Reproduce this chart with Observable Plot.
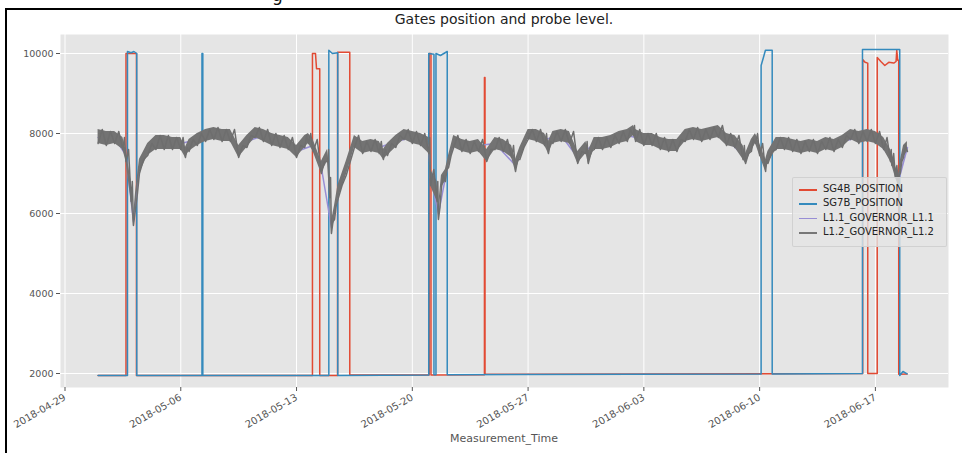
<!DOCTYPE html>
<html>
<head>
<meta charset="utf-8">
<script src="https://cdn.jsdelivr.net/npm/d3@7"></script>
<script src="https://cdn.jsdelivr.net/npm/@observablehq/plot@0.6"></script>
<style>
  body { margin: 0; background: #fff; }
  #wrap { position: relative; width: 962px; height: 453px; overflow: hidden; background: #fff; font-family: "DejaVu Sans", sans-serif; }
  #chart { position: absolute; left: 0; top: 0; }
  #frameL { position: absolute; left: 5px; top: 8px; width: 2px; height: 460px; background: #000; }
  #frameT { position: absolute; left: 5px; top: 8px; width: 970px; height: 2px; background: #000; }
  #cut { position: absolute; left: 272px; top: -15px; font-size: 17px; color: #111; }
  #title { position: absolute; left: 60px; width: 888px; top: 11px; text-align: center; font-size: 14px; color: #222; }
  #xlabel { position: absolute; left: 60px; width: 888px; top: 432px; text-align: center; font-size: 11px; color: #555; }
  #legend { position: absolute; left: 792px; top: 177px; width: 155px; height: 70px; background: rgba(229,229,229,0.8); border: 1px solid rgba(204,204,204,0.8); border-radius: 2px; box-sizing: border-box; }
  .lrow { position: absolute; left: 0; height: 12px; font-size: 10px; color: #222; white-space: nowrap; }
  .lline { position: absolute; left: 6px; top: 6px; width: 18px; height: 1.5px; }
  .ltext { position: absolute; left: 30px; top: 0; line-height: 12px; }
</style>
</head>
<body>
<div id="wrap">
  <div id="cut">g</div>
  <div id="chart"></div>
  <div id="frameL"></div>
  <div id="frameT"></div>
  <div id="title">Gates position and probe level.</div>
  <div id="xlabel">Measurement_Time</div>
  <div id="legend"></div>
</div>
<script>
// ---- series metadata ----
const seriesNames = ["SG4B_POSITION", "SG7B_POSITION", "L1.1_GOVERNOR_L1.1", "L1.2_GOVERNOR_L1.2"];
const seriesColors = ["#E24A33", "#348ABD", "#988ED5", "#777777"];

// ---- axis ticks ----
const xTickLabels = ["2018-04-29", "2018-05-06", "2018-05-13", "2018-05-20", "2018-05-27", "2018-06-03", "2018-06-10", "2018-06-17"];
const yTicks = [2000, 4000, 6000, 8000, 10000];

// ---- SG4B_POSITION (gate, red) ----
const sg4bTime = [
  "2018-05-01T00:00", "2018-05-02T16:30", "2018-05-02T16:30", "2018-05-03T07:40", "2018-05-03T07:40",
  "2018-05-13T23:05", "2018-05-13T23:05", "2018-05-14T03:30", "2018-05-14T05:00", "2018-05-14T09:40", "2018-05-14T09:40",
  "2018-05-15T11:30", "2018-05-15T11:30", "2018-05-16T05:15", "2018-05-16T05:15",
  "2018-05-21T00:30", "2018-05-21T00:30", "2018-05-21T03:05", "2018-05-21T03:05",
  "2018-05-24T08:40", "2018-05-24T08:40", "2018-05-24T09:30", "2018-05-24T09:30",
  "2018-06-16T05:35", "2018-06-16T05:35", "2018-06-16T09:00", "2018-06-16T12:55", "2018-06-16T12:55",
  "2018-06-17T02:40", "2018-06-17T02:40", "2018-06-17T07:55", "2018-06-17T13:40", "2018-06-17T19:25",
  "2018-06-18T02:40", "2018-06-18T06:00", "2018-06-18T07:00", "2018-06-18T08:25", "2018-06-18T09:50", "2018-06-18T09:50",
  "2018-06-18T22:00"
];
const sg4bVal = [
  1950, 1950, 10000, 10000, 1950,
  1950, 10000, 10000, 9620, 9620, 1950,
  1950, 10030, 10030, 1960,
  1960, 10000, 10000, 1960,
  1970, 9400, 9400, 1980,
  2000, 9850, 9780, 9760, 2000,
  2000, 9900, 9800, 9700, 9780,
  9760, 9800, 10080, 9830, 9830, 1980,
  1990
];

// ---- SG7B_POSITION (gate, blue) ----
const sg7bTime = [
  "2018-05-01T00:00", "2018-05-02T18:40", "2018-05-02T18:40", "2018-05-03T00:00", "2018-05-03T04:00", "2018-05-03T08:10", "2018-05-03T08:10",
  "2018-05-07T06:45", "2018-05-07T06:45", "2018-05-07T08:00", "2018-05-07T08:00",
  "2018-05-14T22:50", "2018-05-14T22:50", "2018-05-15T04:00", "2018-05-15T11:50", "2018-05-15T11:50",
  "2018-05-20T23:50", "2018-05-20T23:50", "2018-05-21T07:25", "2018-05-21T07:25",
  "2018-05-21T10:20", "2018-05-21T10:20", "2018-05-21T16:50", "2018-05-22T02:40", "2018-05-22T02:40",
  "2018-06-10T02:10", "2018-06-10T02:10", "2018-06-10T05:30", "2018-06-10T08:25", "2018-06-10T18:15", "2018-06-10T18:15",
  "2018-06-16T05:15", "2018-06-16T05:15", "2018-06-18T11:20", "2018-06-18T11:20", "2018-06-18T16:00", "2018-06-18T22:00"
];
const sg7bVal = [
  1950, 1950, 10050, 10020, 10050, 10000, 1950,
  1950, 10000, 10000, 1950,
  1950, 10080, 10000, 10020, 1950,
  1960, 10000, 9980, 1970,
  1970, 10000, 9950, 10050, 1970,
  1990, 9700, 9900, 10080, 10080, 1990,
  2000, 10100, 10100, 1950, 2050, 1990
];

// ---- L1.1_GOVERNOR_L1.1 (probe, purple; mostly hidden below L1.2) ----
const l11Time = [
  "2018-05-01T00:00", "2018-05-02T00:00", "2018-05-02T16:30", "2018-05-03T03:20", "2018-05-03T12:00", "2018-05-04T00:00",
  "2018-05-05T00:00", "2018-05-06T00:00", "2018-05-07T00:00", "2018-05-08T00:00", "2018-05-09T00:00", "2018-05-09T12:00",
  "2018-05-10T00:00", "2018-05-11T00:00", "2018-05-12T00:00", "2018-05-13T00:00", "2018-05-14T00:00", "2018-05-14T12:00",
  "2018-05-15T02:40", "2018-05-15T12:00", "2018-05-16T00:00", "2018-05-16T12:00", "2018-05-17T00:00", "2018-05-18T00:00",
  "2018-05-19T00:00", "2018-05-20T00:00", "2018-05-21T00:00", "2018-05-21T02:25", "2018-05-21T13:55", "2018-05-22T04:35",
  "2018-05-22T12:00", "2018-05-23T00:00", "2018-05-24T00:00", "2018-05-25T00:00", "2018-05-26T05:45", "2018-05-27T00:00",
  "2018-05-28T00:00", "2018-05-29T00:00", "2018-05-30T00:00", "2018-05-31T00:00", "2018-06-01T00:00", "2018-06-02T00:00",
  "2018-06-03T00:00", "2018-06-04T00:00", "2018-06-05T00:00", "2018-06-06T00:00", "2018-06-07T00:00", "2018-06-08T00:00",
  "2018-06-09T03:35", "2018-06-09T18:00", "2018-06-10T08:40", "2018-06-11T00:00", "2018-06-12T00:00", "2018-06-13T00:00",
  "2018-06-14T00:00", "2018-06-15T00:00", "2018-06-16T00:00", "2018-06-17T00:00", "2018-06-18T00:00", "2018-06-18T09:20",
  "2018-06-18T22:30"
];
const l11Val = [
  7900, 7900, 7450, 5800, 7150, 7600,
  7750, 7750, 7850, 8000, 7950, 7550,
  7800, 7950, 7800, 7550, 7700, 7150,
  5650, 6500, 7100, 7800, 7650, 7650,
  7800, 7900, 7700, 6900, 6000, 7300,
  7800, 7700, 7700, 7750, 7200, 7950,
  7850, 7950, 7400, 7750, 7800, 7950,
  7850, 7750, 7700, 8000, 8000, 7850,
  7400, 7850, 7200, 7750, 7700, 7700,
  7750, 7800, 7900, 7900, 7350, 6800,
  7650
];

// ---- L1.2_GOVERNOR_L1.2 (probe, grey; noisy band: low / high readings) ----
const govTime = [
  "2018-05-01T00:00", "2018-05-01T12:00", "2018-05-02T00:00", "2018-05-02T12:00", "2018-05-02T16:30",
  "2018-05-03T00:00", "2018-05-03T03:20", "2018-05-03T06:15", "2018-05-03T12:00", "2018-05-04T00:00",
  "2018-05-04T12:00", "2018-05-05T00:00", "2018-05-05T12:00", "2018-05-06T00:00", "2018-05-06T06:45",
  "2018-05-06T12:00", "2018-05-07T00:00", "2018-05-07T12:00", "2018-05-08T00:00", "2018-05-08T12:00",
  "2018-05-09T00:00", "2018-05-09T12:00", "2018-05-10T00:00", "2018-05-10T12:00", "2018-05-11T00:00",
  "2018-05-11T12:00", "2018-05-12T00:00", "2018-05-12T12:00", "2018-05-13T00:00", "2018-05-13T12:00",
  "2018-05-13T17:15", "2018-05-14T00:00", "2018-05-14T12:00", "2018-05-14T20:50", "2018-05-15T00:00",
  "2018-05-15T02:40", "2018-05-15T07:10", "2018-05-15T12:00", "2018-05-16T00:00", "2018-05-16T12:00",
  "2018-05-17T00:00", "2018-05-17T12:00", "2018-05-18T00:00", "2018-05-18T06:00", "2018-05-18T12:00",
  "2018-05-19T00:00", "2018-05-19T12:00", "2018-05-20T00:00", "2018-05-20T12:00", "2018-05-21T00:00",
  "2018-05-21T02:25", "2018-05-21T12:00", "2018-05-21T13:55", "2018-05-21T18:15", "2018-05-22T00:00",
  "2018-05-22T04:35", "2018-05-22T12:00", "2018-05-23T00:00", "2018-05-23T12:00", "2018-05-24T00:00",
  "2018-05-24T12:00", "2018-05-25T00:00", "2018-05-25T12:00", "2018-05-26T00:00", "2018-05-26T05:45",
  "2018-05-26T12:00", "2018-05-27T00:00", "2018-05-27T12:00", "2018-05-28T00:00", "2018-05-28T05:30",
  "2018-05-28T12:00", "2018-05-29T00:00", "2018-05-29T12:00", "2018-05-30T00:00", "2018-05-30T12:00",
  "2018-05-30T15:20", "2018-05-31T00:00", "2018-05-31T12:00", "2018-06-01T00:00", "2018-06-01T12:00",
  "2018-06-02T00:00", "2018-06-02T08:50", "2018-06-02T12:00", "2018-06-03T00:00", "2018-06-03T12:00",
  "2018-06-04T00:00", "2018-06-04T12:00", "2018-06-05T00:00", "2018-06-05T12:00", "2018-06-06T00:00",
  "2018-06-06T12:00", "2018-06-07T00:00", "2018-06-07T12:00", "2018-06-08T00:00", "2018-06-08T12:00",
  "2018-06-09T00:00", "2018-06-09T03:35", "2018-06-09T12:00", "2018-06-09T18:00", "2018-06-10T00:00",
  "2018-06-10T08:40", "2018-06-10T12:00", "2018-06-11T00:00", "2018-06-11T12:00", "2018-06-12T00:00",
  "2018-06-12T12:00", "2018-06-13T00:00", "2018-06-13T12:00", "2018-06-14T00:00", "2018-06-14T12:00",
  "2018-06-15T00:00", "2018-06-15T12:00", "2018-06-16T00:00", "2018-06-16T12:00", "2018-06-17T00:00",
  "2018-06-17T12:00", "2018-06-17T21:50", "2018-06-18T00:00", "2018-06-18T05:00", "2018-06-18T09:20",
  "2018-06-18T12:00", "2018-06-18T16:50", "2018-06-18T22:30"
];
const govLo = [
  7750, 7700, 7750, 7600, 7300,
  6300, 5700, 6100, 7000, 7450,
  7600, 7600, 7600, 7600, 7400,
  7550, 7700, 7800, 7850, 7800,
  7800, 7400, 7650, 7900, 7800,
  7700, 7650, 7600, 7400, 7650,
  7750, 7550, 7000, 7300, 6400,
  5500, 5850, 6350, 6950, 7650,
  7500, 7550, 7500, 7350, 7450,
  7650, 7850, 7750, 7700, 7500,
  6700, 6300, 5850, 6650, 6800,
  7150, 7650, 7550, 7500, 7550,
  7300, 7600, 7550, 7400, 7050,
  7350, 7850, 7800, 7700, 7500,
  7750, 7800, 7750, 7250, 7500,
  7250, 7600, 7600, 7650, 7750,
  7800, 7950, 7800, 7700, 7700,
  7600, 7550, 7550, 7800, 7850,
  7800, 7850, 7900, 7700, 7650,
  7350, 7250, 7550, 7750, 7450,
  7050, 7250, 7600, 7600, 7550,
  7500, 7550, 7500, 7600, 7550,
  7650, 7850, 7750, 7800, 7750,
  7600, 7300, 7200, 6900, 6700,
  7000, 7400, 7550
];
const govHi = [
  8100, 8050, 8050, 7900, 7600,
  6800, 5900, 6500, 7350, 7750,
  7950, 7950, 7900, 7900, 7650,
  7850, 8000, 8100, 8150, 8100,
  8100, 7700, 7950, 8150, 8100,
  8000, 7950, 7900, 7700, 7950,
  8000, 7850, 7300, 7600, 6900,
  5800, 6200, 6700, 7300, 7950,
  7800, 7850, 7800, 7600, 7750,
  7950, 8100, 8050, 8000, 7900,
  7100, 6800, 6150, 6950, 7100,
  7450, 7950, 7850, 7800, 7850,
  7600, 7900, 7850, 7700, 7350,
  7650, 8100, 8100, 8000, 7800,
  8050, 8100, 8050, 7550, 7800,
  7550, 7900, 7900, 7950, 8050,
  8100, 8200, 8100, 8000, 8000,
  7900, 7850, 7850, 8100, 8150,
  8100, 8150, 8200, 8000, 7950,
  7700, 7500, 7850, 8000, 7750,
  7350, 7550, 7900, 7900, 7850,
  7800, 7850, 7800, 7900, 7850,
  7950, 8100, 8050, 8100, 8050,
  7900, 7600, 7500, 7200, 6950,
  7300, 7700, 7800
];

// ---- build tables ----
const parse = s => new Date((s.length === 10 ? s + "T00:00" : s) + "Z");
const zip = (T, V) => T.map((t, i) => ({ t: parse(t), v: V[i] }));
const sg4b = zip(sg4bTime, sg4bVal);
const sg7b = zip(sg7bTime, sg7bVal);
const l11 = zip(l11Time, l11Val);
const govBand = govTime.map((t, i) => ({ t: parse(t), lo: govLo[i], hi: govHi[i] }));
const govLine = [];
govBand.forEach((d, i) => {
  govLine.push({ t: d.t, v: d.lo });
  if (i < govBand.length - 1) {
    govLine.push({ t: new Date((+d.t + +govBand[i + 1].t) / 2), v: d.hi });
  }
});
const xTicks = xTickLabels.map(parse);

const chart = Plot.plot({
  width: 962,
  height: 453,
  marginLeft: 60,
  marginRight: 14,
  marginTop: 34,
  marginBottom: 66,
  style: { background: "transparent", fontFamily: "DejaVu Sans, sans-serif", fontSize: "9px", color: "#555" },
  x: { type: "utc", domain: [parse("2018-04-28T17:28"), parse("2018-06-21T10:05")] },
  y: { domain: [1650, 10475] },
  marks: [
    Plot.frame({ fill: "#E5E5E5", stroke: "none" }),
    Plot.gridX(xTicks, { stroke: "#fff", strokeOpacity: 1, strokeWidth: 1 }),
    Plot.gridY(yTicks, { stroke: "#fff", strokeOpacity: 1, strokeWidth: 1 }),
    Plot.axisX(xTicks, { tickFormat: d3.utcFormat("%Y-%m-%d"), tickRotate: -30, tickSize: 4, tickPadding: 5, label: null, stroke: "#555", fill: "#555", fontSize: 10 }),
    Plot.axisY(yTicks, { tickFormat: d => String(d), tickSize: 4, tickPadding: 3, label: null, stroke: "#555", fill: "#555", fontSize: 9.5 }),
    Plot.line(sg4b, { x: "t", y: "v", stroke: seriesColors[0], strokeWidth: 1.5 }),
    Plot.line(sg7b, { x: "t", y: "v", stroke: seriesColors[1], strokeWidth: 1.5 }),
    Plot.line(l11, { x: "t", y: "v", stroke: seriesColors[2], strokeWidth: 1.5 }),
    Plot.areaY(govBand, { x: "t", y1: "lo", y2: "hi", fill: "#737373", fillOpacity: 1 }),
    Plot.line(govLine, { x: "t", y: "v", stroke: "#6e6e6e", strokeWidth: 1.5 })
  ]
});
document.getElementById("chart").appendChild(chart);

// ---- legend ----
const legend = document.getElementById("legend");
seriesNames.forEach((name, i) => {
  const row = document.createElement("div");
  row.className = "lrow";
  row.style.top = (5 + i * 14.4) + "px";
  row.style.width = "152px";
  const ln = document.createElement("div");
  ln.className = "lline";
  ln.style.background = seriesColors[i];
  const tx = document.createElement("div");
  tx.className = "ltext";
  tx.textContent = name;
  row.appendChild(ln);
  row.appendChild(tx);
  legend.appendChild(row);
});
</script>
</body>
</html>
